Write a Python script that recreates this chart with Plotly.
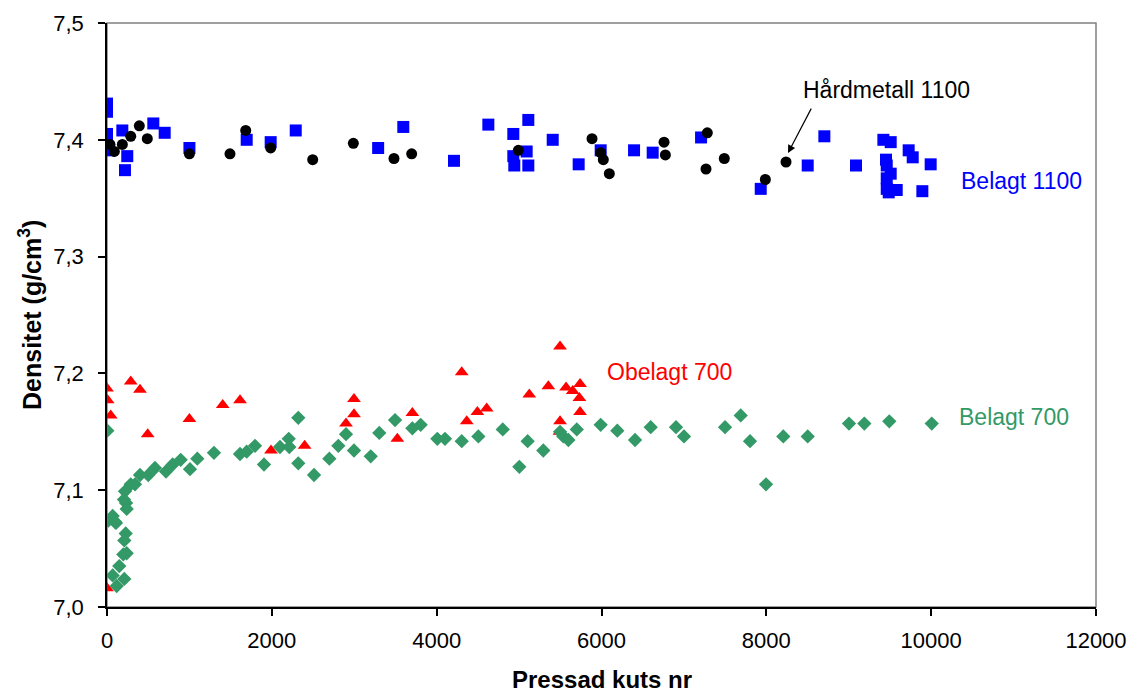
import plotly.graph_objects as go

# ---- data ----
belagt1100_x = [0, 0, 0, 25, 186, 246, 218, 562, 700, 1000, 1695, 1986, 2290, 3290, 3595,
                4210, 4627, 4930, 5112, 5092, 4930, 4942, 5112, 5408, 5723, 5990, 6395, 6621,
                7208, 7932, 8502, 8704, 9088, 9420, 9509, 9727, 9776, 9452, 9461, 9509, 9461,
                9461, 9582, 9485, 9994, 9893]
belagt1100_y = [7.431, 7.424, 7.405, 7.391, 7.408, 7.386, 7.374, 7.414, 7.406, 7.393, 7.400,
                7.398, 7.408, 7.393, 7.411, 7.382, 7.413, 7.405, 7.417, 7.390, 7.386, 7.378,
                7.378, 7.400, 7.379, 7.391, 7.391, 7.389, 7.402, 7.358, 7.378, 7.403, 7.378,
                7.400, 7.398, 7.391, 7.385, 7.383, 7.378, 7.371, 7.367, 7.358, 7.357, 7.355,
                7.379, 7.356]

hard1100_x = [36, 89, 186, 288, 392, 489, 1000, 1492, 1683, 1986, 2496, 2989, 3482, 3697,
              4991, 5885, 5990, 6022, 6095, 6759, 6775, 7284, 7268, 7490, 7988, 8239]
hard1100_y = [7.396, 7.390, 7.396, 7.403, 7.412, 7.401, 7.388, 7.388, 7.408, 7.393, 7.383,
              7.397, 7.384, 7.388, 7.391, 7.401, 7.389, 7.383, 7.371, 7.398, 7.387, 7.406,
              7.375, 7.384, 7.366, 7.381]

obelagt700_x = [0, 8, 45, 288, 400, 494, 1000, 1404, 1614, 1990, 2398, 2900, 2997, 2997, 3523,
                3705, 4304, 4365, 4494, 4607, 5124, 5355, 5497, 5497, 5490, 5570, 5651, 5740,
                5732, 5740, 0]
obelagt700_y = [7.187, 7.177, 7.164, 7.193, 7.186, 7.148, 7.161, 7.173, 7.177, 7.134, 7.138,
                7.157, 7.178, 7.165, 7.144, 7.166, 7.201, 7.159, 7.167, 7.170, 7.182, 7.189,
                7.223, 7.159, 7.150, 7.188, 7.185, 7.191, 7.179, 7.167, 7.016]

belagt700_x = [4, 16, 97, 69, 109, 218, 206, 231, 239, 227, 210, 239, 198, 149, 69, 118, 210,
               288, 340, 400, 501, 582, 716, 797, 894, 1007, 1096, 1298, 1614, 1695, 1796,
               1905, 2099, 2205, 2212, 2321, 2321, 2512, 2698, 2807, 2900, 2997, 3200, 3304,
               3495, 3705, 3806, 4008, 4101, 4304, 4506, 4802, 5003, 5104, 5294, 5497, 5537,
               5598, 5700, 5990, 6192, 6407, 6597, 6904, 7001, 7499, 7689, 7802, 7996, 8206,
               8502, 9003, 9189, 9492, 10007]
belagt700_y = [7.151, 7.074, 7.073, 7.078, 7.072, 7.099, 7.092, 7.089, 7.084, 7.063, 7.057,
               7.046, 7.045, 7.035, 7.027, 7.018, 7.024, 7.105, 7.105, 7.113, 7.113, 7.119,
               7.116, 7.122, 7.126, 7.118, 7.127, 7.132, 7.131, 7.133, 7.138, 7.122, 7.137,
               7.144, 7.137, 7.162, 7.123, 7.113, 7.127, 7.138, 7.148, 7.134, 7.129, 7.149,
               7.160, 7.153, 7.156, 7.144, 7.144, 7.142, 7.146, 7.152, 7.120, 7.142, 7.134,
               7.150, 7.146, 7.143, 7.152, 7.156, 7.151, 7.143, 7.154, 7.154, 7.146, 7.154,
               7.164, 7.142, 7.105, 7.146, 7.146, 7.157, 7.157, 7.159, 7.157]

x_ticks = [0, 2000, 4000, 6000, 8000, 10000, 12000]
y_ticks = [7.0, 7.1, 7.2, 7.3, 7.4, 7.5]

BLUE = "#0000FF"
RED = "#FF0000"
GREEN = "#339966"
BLACK = "#000000"
FONT = "Liberation Sans, Arial, sans-serif"

fig = go.Figure()
fig.add_trace(go.Scatter(x=obelagt700_x, y=obelagt700_y, mode="markers", name="Obelagt 700",
                         marker=dict(symbol="triangle-up", size=12, color=RED, line=dict(width=0))))
fig.add_trace(go.Scatter(x=belagt700_x, y=belagt700_y, mode="markers", name="Belagt 700",
                         marker=dict(symbol="diamond", size=11, color=GREEN, line=dict(width=0))))
fig.add_trace(go.Scatter(x=belagt1100_x, y=belagt1100_y, mode="markers", name="Belagt 1100",
                         marker=dict(symbol="square", size=12, color=BLUE, line=dict(width=0))))
fig.add_trace(go.Scatter(x=hard1100_x, y=hard1100_y, mode="markers", name="Hårdmetall 1100",
                         marker=dict(symbol="circle", size=11, color=BLACK, line=dict(width=0))))

fig.add_shape(type="rect", xref="paper", yref="paper", x0=0, y0=0, x1=1, y1=1,
              line=dict(color="#808080", width=1.5), layer="below")

annos = [
    dict(x=9452, y=7.4426, text="Hårdmetall 1100", color=BLACK),
    dict(x=11091, y=7.3647, text="Belagt 1100", color=BLUE),
    dict(x=6819, y=7.2012, text="Obelagt 700", color=RED),
    dict(x=11005, y=7.1627, text="Belagt 700", color=GREEN),
]
for a in annos:
    fig.add_annotation(x=a["x"], y=a["y"], text=a["text"], showarrow=False,
                       font=dict(family=FONT, size=23, color=a["color"]))
fig.add_annotation(x=8263, y=7.3887, ax=8554, ay=7.428, xref="x", yref="y", axref="x", ayref="y",
                   text="", showarrow=True, arrowhead=2, arrowsize=1.3, arrowwidth=1.2,
                   arrowcolor=BLACK)

# axis titles
fig.add_annotation(xref="paper", yref="paper", x=0.5, y=0, yshift=-72, xanchor="center",
                   yanchor="middle", showarrow=False, text="<b>Pressad kuts nr</b>",
                   font=dict(family=FONT, size=24, color=BLACK))
fig.add_annotation(xref="paper", yref="paper", x=0, y=0.5, xshift=-77, xanchor="center",
                   yanchor="middle", showarrow=False, textangle=-90,
                   text="<b>Densitet (g/cm<sup>3</sup>)</b>",
                   font=dict(family=FONT, size=25, color=BLACK))

fig.update_layout(
    width=1129, height=685,
    margin=dict(l=99, r=41, t=15, b=86),
    paper_bgcolor="white", plot_bgcolor="white",
    showlegend=False,
    separators=",.",
    font=dict(family=FONT, size=22, color="black"),
)
fig.update_xaxes(range=[0, 12000], tickvals=x_ticks, tickformat="d", automargin=False,
                 showgrid=False, zeroline=False, showline=True, linecolor="black", linewidth=1.5,
                 ticks="outside", ticklen=7, tickcolor="black", tickwidth=1.5,
                 ticklabelstandoff=6, tickfont=dict(size=22))
fig.update_yaxes(range=[7.0, 7.5], tickvals=y_ticks, tickformat=".1f", automargin=False,
                 showgrid=False, zeroline=False, showline=True, linecolor="black", linewidth=1.5,
                 ticks="outside", ticklen=7, tickcolor="black", tickwidth=1.5,
                 ticklabelstandoff=10, tickfont=dict(size=22))

fig.write_html("out.html")
